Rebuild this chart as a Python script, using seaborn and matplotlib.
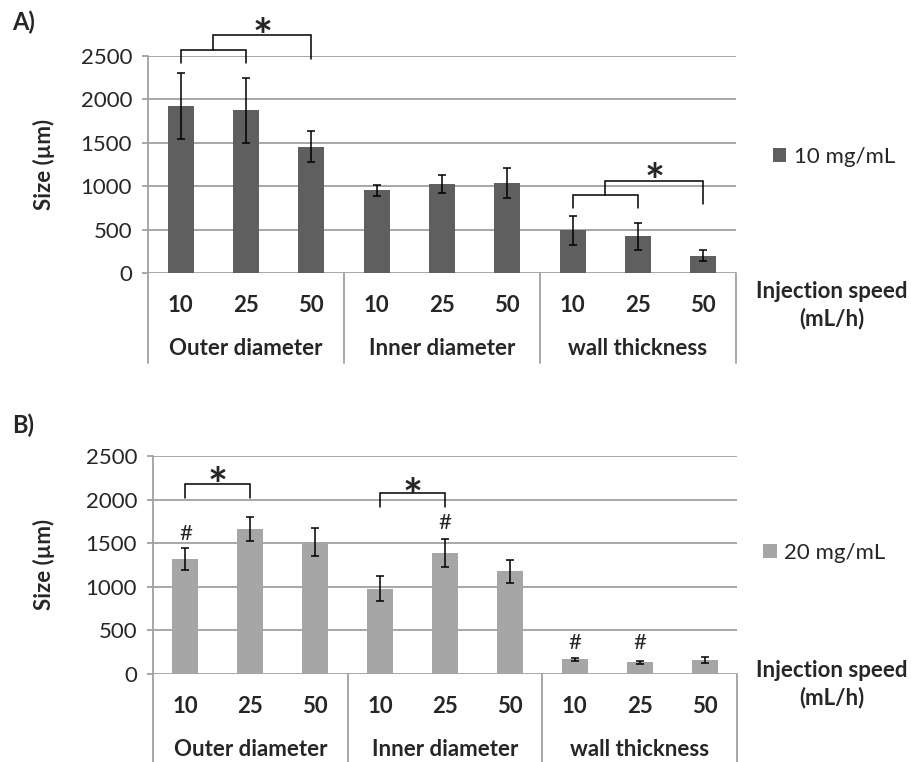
import matplotlib
matplotlib.use("Agg")
import matplotlib.pyplot as plt
import pandas as pd
import seaborn as sns

# ---- data -------------------------------------------------------------
groups = ["Outer diameter", "Inner diameter", "wall thickness"]
speeds = ["10", "25", "50"]

size_10 = [1923, 1873, 1454, 954, 1023, 1038, 492, 423, 200]
err_10 = [380, 375, 177, 62, 104, 173, 167, 156, 60]

size_20 = [1317, 1662, 1516, 976, 1386, 1179, 165, 130, 157]
err_20 = [123, 140, 160, 145, 163, 132, 20, 21, 30]

yticks = [0, 500, 1000, 1500, 2000, 2500]

# ---- style ------------------------------------------------------------
sns.set_theme(style="white")
plt.rcParams["font.family"] = ["Lato", "DejaVu Sans"]
GRID = "#a0a0a0"
FS = 16
STAR_FS = 34

slots = [f"{g}|{s}" for g in groups for s in speeds]


def make_frame(values, conc):
    return pd.DataFrame({"slot": slots, "size": values, "conc": conc})


def bracket(ax, x1, x2, y, y1, y2):
    ax.plot([x1, x1, x2, x2], [y1, y, y, y2], color="black", lw=1.1,
            clip_on=False, solid_joinstyle="miter")


def star(ax, x, y):
    # the asterisk glyph sits high in its line box, so pull it down
    ax.annotate("*", (x, y), xytext=(0, -0.33 * STAR_FS),
                textcoords="offset points", ha="center", va="center",
                fontsize=STAR_FS, fontweight="bold", annotation_clip=False)


def panel(fig, rect, values, errs, conc, color, leg_x, leg_y, ylab_x, sep_bottom):
    ax = fig.add_axes(rect)
    df = make_frame(values, conc)
    sns.barplot(data=df, x="slot", y="size", hue="conc", order=slots,
                palette=[color], saturation=1, width=0.4, dodge=False,
                errorbar=None, linewidth=0, ax=ax)
    ax.errorbar(range(len(values)), values, yerr=errs, fmt="none",
                ecolor="black", elinewidth=1.1, capsize=2.6, capthick=1.1,
                zorder=4)
    ax.set_xlim(-0.5, 8.5)
    ax.set_ylim(0, 2500)
    ax.set_yticks(yticks)
    ax.yaxis.grid(True, color=GRID, lw=1.3)
    ax.set_axisbelow(True)
    for sp in ax.spines.values():
        sp.set_visible(False)
    ax.tick_params(axis="y", length=4.5, width=1.3, color=GRID, pad=7,
                   labelsize=FS, left=True)
    ax.set_xticks(range(9), labels=speeds * 3)
    ax.tick_params(axis="x", length=0, pad=16, labelsize=FS)
    for t in ax.get_xticklabels():
        t.set_fontweight("bold")
    ax.set_xlabel("")
    ax.set_ylabel("Size (µm)", fontsize=FS, fontweight="bold")
    ax.yaxis.set_label_coords(ylab_x, 0.5)

    # left axis line and group separators below the plot
    tr = ax.get_xaxis_transform()
    ax.plot([-0.5, -0.5], [1, sep_bottom], color=GRID, lw=1.3,
            transform=tr, clip_on=False)
    for xs in [2.5, 5.5, 8.5]:
        ax.plot([xs, xs], [0, sep_bottom], color=GRID, lw=1.3,
                transform=tr, clip_on=False)
    for i, g in enumerate(groups):
        ax.text(3 * i + 1, -0.346, g, transform=tr, ha="center", va="center",
                fontsize=FS, fontweight="bold")

    ax.legend(loc="center left", bbox_to_anchor=(leg_x, leg_y), frameon=False,
              borderpad=0, borderaxespad=0, handlelength=0.6,
              handleheight=0.6, handletextpad=0.35, fontsize=FS)
    return ax


fig = plt.figure(figsize=(9.11, 7.62), dpi=100)

axA = panel(fig, [148 / 911, 1 - 273 / 762, 588 / 911, 217 / 762],
            size_10, err_10, "10 mg/mL", "#5f5f5f", 1.063, 0.535, -0.158, -0.415)
axB = panel(fig, [153 / 911, 1 - 673.7 / 762, 584 / 911, 217.7 / 762],
            size_20, err_20, "20 mg/mL", "#a6a6a6", 1.045, 0.554, -0.168, -0.406)

# significance brackets, panel A
bracket(axA, 0, 1, 2569, 2419, 2419)
bracket(axA, 0.5, 2, 2742, 2569, 2465)
star(axA, 1.25, 2880)
bracket(axA, 6, 7, 897, 747, 747)
bracket(axA, 6.5, 8, 1058, 897, 793)
star(axA, 7.25, 1208)

# significance brackets, panel B
bracket(axB, 0, 1, 2175, 2021, 2021)
star(axB, 0.5, 2308)
bracket(axB, 3, 4, 2071, 1917, 1917)
star(axB, 3.5, 2189)
for hx, hy in [(0, 1604), (4, 1730), (6, 352), (7, 352)]:
    axB.text(hx, hy, "#", ha="center", va="center", fontsize=FS, clip_on=False)

# axis captions and panel letters
for yc in [1 - 305.5 / 762, 1 - 684 / 762]:
    fig.text(832 / 911, yc, "Injection speed\n(mL/h)", ha="center",
             va="center", fontsize=FS, fontweight="bold", linespacing=1.3)
fig.text(12 / 911, 1 - 22 / 762, "A)", ha="left", va="center",
         fontsize=17, fontweight="bold")
fig.text(12 / 911, 1 - 425 / 762, "B)", ha="left", va="center",
         fontsize=17, fontweight="bold")

fig.savefig("out.png", dpi=100)
